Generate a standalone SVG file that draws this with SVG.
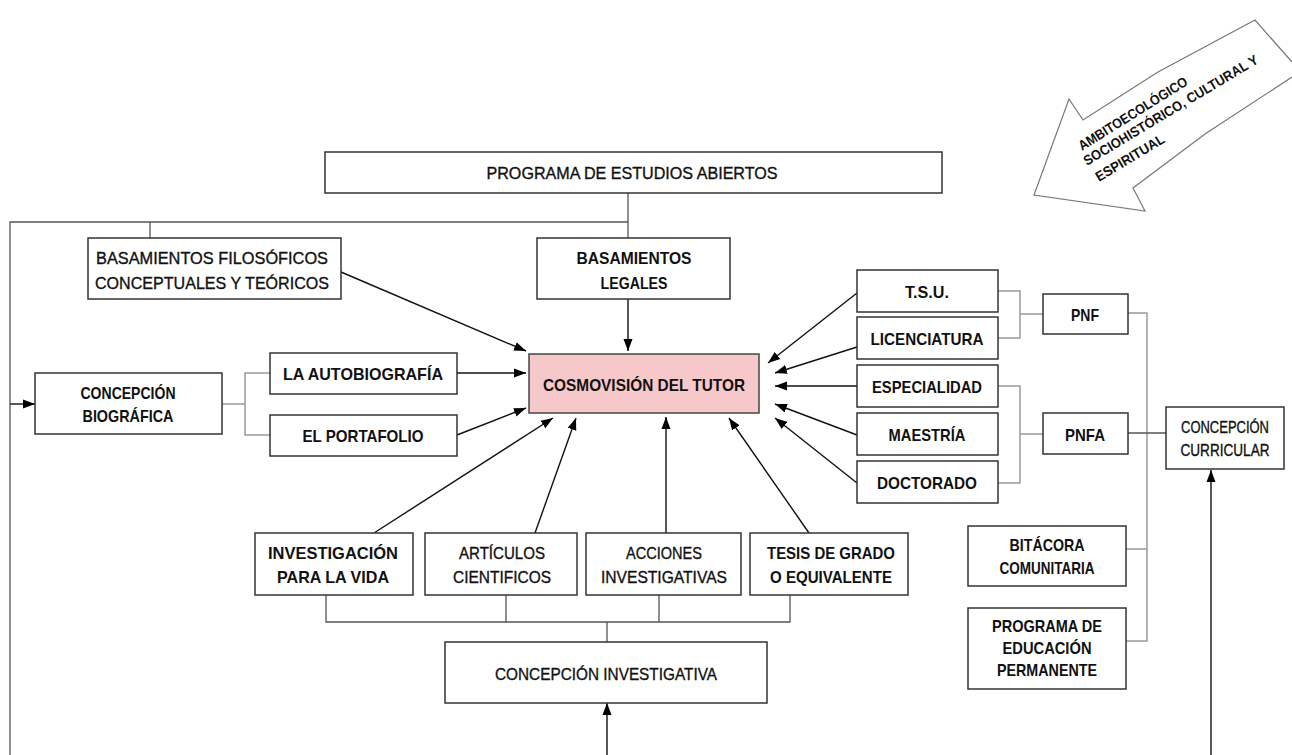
<svg xmlns="http://www.w3.org/2000/svg" width="1292" height="755" viewBox="0 0 1292 755">
<defs>
<marker id="ah" viewBox="0 0 12 10" refX="12" refY="5" markerWidth="12" markerHeight="10" markerUnits="userSpaceOnUse" orient="auto">
<path d="M0,0.5 L12,5 L0,9.5 z" fill="#000"/>
</marker>
<style>
.box{fill:#fff;stroke:#333;stroke-width:1.5}
.pink{fill:#f6c8ca;stroke:#444;stroke-width:1.5}
text{font-family:"Liberation Sans",Arial,sans-serif;font-size:17px;fill:#111;text-anchor:middle;stroke:#111;stroke-width:0.35}
.b{font-weight:bold;stroke-width:0}
.ln{fill:none;stroke:#555;stroke-width:1.3}
.gr{fill:none;stroke:#9a9a9a;stroke-width:1.5}
.ar{fill:none;stroke:#111;stroke-width:1.4;marker-end:url(#ah)}
.amb{font-size:14px;font-weight:bold;text-anchor:start;stroke-width:0}
</style>
</defs>
<rect width="1292" height="755" fill="#fff"/>

<g id="ambito">
<path d="M1292,62 L1255,20 L1158,72 L1083,120 L1069,99 L1034,195 L1145,211 L1133,188 L1205,134 L1292,77" fill="#fff" stroke="#777" stroke-width="1.2"/>
<text class="amb" transform="translate(1082,151) rotate(-32)" textLength="126" lengthAdjust="spacingAndGlyphs">AMBITOECOLÓGICO</text>
<text class="amb" transform="translate(1087,166) rotate(-31)" textLength="201" lengthAdjust="spacingAndGlyphs">SOCIOHISTÓRICO, CULTURAL Y</text>
<text class="amb" transform="translate(1099,182) rotate(-31)" textLength="78" lengthAdjust="spacingAndGlyphs">ESPIRITUAL</text>
</g>

<g id="connectors">
<polyline class="ln" points="628,193 628,238"/>
<polyline class="ln" points="628,222 10,222 10,755"/>
<polyline class="ln" points="150,222 150,238"/>
<line class="ar" x1="10" y1="404" x2="35" y2="404"/>
<line class="ar" x1="628" y1="299" x2="628" y2="351"/>
<line class="ar" x1="341" y1="272" x2="526" y2="351"/>
<polyline class="gr" points="222,404 245,404"/>
<polyline class="gr" points="270,373 245,373 245,435 270,435"/>
<line class="ar" x1="457" y1="373" x2="526" y2="373"/>
<line class="ar" x1="457" y1="435" x2="526" y2="408"/>
<line class="ar" x1="374" y1="533" x2="553" y2="418"/>
<line class="ar" x1="535" y1="533" x2="576" y2="418"/>
<line class="ar" x1="666" y1="533" x2="666" y2="417"/>
<line class="ar" x1="809" y1="533" x2="729" y2="418"/>
<line class="ar" x1="857" y1="293" x2="768" y2="363"/>
<line class="ar" x1="857" y1="347" x2="775" y2="373"/>
<line class="ar" x1="857" y1="386" x2="775" y2="386"/>
<line class="ar" x1="857" y1="435" x2="775" y2="404"/>
<line class="ar" x1="857" y1="483" x2="775" y2="418"/>
<polyline class="gr" points="998,291 1020,291 1020,338 998,338"/>
<polyline class="gr" points="1020,314 1043,314"/>
<polyline class="gr" points="998,386 1020,386 1020,483 998,483"/>
<polyline class="gr" points="1020,434 1043,434"/>
<polyline class="gr" points="1128,313 1147,313 1147,641 1126,641"/>
<polyline class="gr" points="1126,549 1147,549"/>
<polyline class="ln" points="1128,433 1166,433"/>
<line class="ar" x1="1211" y1="755" x2="1211" y2="470"/>
<polyline class="ln" points="326,595 326,622 790,622 790,595"/>
<polyline class="ln" points="506,595 506,622"/>
<polyline class="ln" points="659,595 659,622"/>
<polyline class="ln" points="607,622 607,642"/>
<line class="ar" x1="607" y1="755" x2="607" y2="703"/>
</g>

<g id="programa"><rect class="box" x="325" y="152" width="617" height="41"/><text x="632" y="179" textLength="291" lengthAdjust="spacingAndGlyphs">PROGRAMA DE ESTUDIOS ABIERTOS</text></g>
<g id="bas-filosoficos"><rect class="box" x="88" y="238" width="253" height="61"/><text x="212" y="264" textLength="232" lengthAdjust="spacingAndGlyphs">BASAMIENTOS FILOSÓFICOS</text><text x="212" y="289" textLength="234" lengthAdjust="spacingAndGlyphs">CONCEPTUALES Y TEÓRICOS</text></g>
<g id="bas-legales"><rect class="box" x="537" y="238" width="193" height="61"/><text class="b" x="634" y="264" textLength="115" lengthAdjust="spacingAndGlyphs">BASAMIENTOS</text><text class="b" x="634" y="289" textLength="67" lengthAdjust="spacingAndGlyphs">LEGALES</text></g>
<g id="cosmovision"><rect class="pink" x="529" y="354" width="230" height="59"/><text class="b" x="644" y="391" textLength="202" lengthAdjust="spacingAndGlyphs">COSMOVISIÓN DEL TUTOR</text></g>
<g id="concepcion-biografica"><rect class="box" x="35" y="373" width="187" height="61"/><text class="b" x="128" y="399" textLength="95" lengthAdjust="spacingAndGlyphs">CONCEPCIÓN</text><text class="b" x="128" y="422" textLength="91" lengthAdjust="spacingAndGlyphs">BIOGRÁFICA</text></g>
<g id="autobiografia"><rect class="box" x="270" y="353" width="187" height="41"/><text class="b" x="363" y="380" textLength="160" lengthAdjust="spacingAndGlyphs">LA AUTOBIOGRAFÍA</text></g>
<g id="portafolio"><rect class="box" x="270" y="415" width="187" height="41"/><text class="b" x="363" y="442" textLength="121" lengthAdjust="spacingAndGlyphs">EL PORTAFOLIO</text></g>
<g id="tsu"><rect class="box" x="857" y="270" width="141" height="42"/><text class="b" x="927" y="298" textLength="44" lengthAdjust="spacingAndGlyphs">T.S.U.</text></g>
<g id="licenciatura"><rect class="box" x="857" y="317" width="141" height="42"/><text class="b" x="927" y="345" textLength="113" lengthAdjust="spacingAndGlyphs">LICENCIATURA</text></g>
<g id="especialidad"><rect class="box" x="857" y="365" width="141" height="42"/><text class="b" x="927" y="393" textLength="110" lengthAdjust="spacingAndGlyphs">ESPECIALIDAD</text></g>
<g id="maestria"><rect class="box" x="857" y="413" width="141" height="42"/><text class="b" x="927" y="441" textLength="77" lengthAdjust="spacingAndGlyphs">MAESTRÍA</text></g>
<g id="doctorado"><rect class="box" x="857" y="461" width="141" height="42"/><text class="b" x="927" y="489" textLength="100" lengthAdjust="spacingAndGlyphs">DOCTORADO</text></g>
<g id="pnf"><rect class="box" x="1043" y="294" width="85" height="40"/><text class="b" x="1085" y="321" textLength="28" lengthAdjust="spacingAndGlyphs">PNF</text></g>
<g id="pnfa"><rect class="box" x="1043" y="413" width="85" height="41"/><text class="b" x="1085" y="441" textLength="40" lengthAdjust="spacingAndGlyphs">PNFA</text></g>
<g id="concepcion-curricular"><rect class="box" x="1166" y="407" width="118" height="62"/><text x="1225" y="433" style="font-size:16px" textLength="88" lengthAdjust="spacingAndGlyphs">CONCEPCIÓN</text><text x="1225" y="456" style="font-size:16px" textLength="89" lengthAdjust="spacingAndGlyphs">CURRICULAR</text></g>
<g id="bitacora"><rect class="box" x="968" y="526" width="158" height="60"/><text class="b" x="1047" y="551" textLength="75" lengthAdjust="spacingAndGlyphs">BITÁCORA</text><text class="b" x="1047" y="574" textLength="95" lengthAdjust="spacingAndGlyphs">COMUNITARIA</text></g>
<g id="educacion-permanente"><rect class="box" x="968" y="608" width="158" height="81"/><text class="b" x="1047" y="632" textLength="110" lengthAdjust="spacingAndGlyphs">PROGRAMA DE</text><text class="b" x="1047" y="654" textLength="89" lengthAdjust="spacingAndGlyphs">EDUCACIÓN</text><text class="b" x="1047" y="676" textLength="100" lengthAdjust="spacingAndGlyphs">PERMANENTE</text></g>
<g id="investigacion-vida"><rect class="box" x="255" y="533" width="158" height="62"/><text class="b" x="333" y="559" textLength="130" lengthAdjust="spacingAndGlyphs">INVESTIGACIÓN</text><text class="b" x="333" y="583" textLength="112" lengthAdjust="spacingAndGlyphs">PARA LA VIDA</text></g>
<g id="articulos"><rect class="box" x="425" y="533" width="152" height="62"/><text x="502" y="559" textLength="86" lengthAdjust="spacingAndGlyphs">ARTÍCULOS</text><text x="502" y="583" textLength="98" lengthAdjust="spacingAndGlyphs">CIENTIFICOS</text></g>
<g id="acciones"><rect class="box" x="586" y="533" width="155" height="62"/><text x="664" y="559" textLength="76" lengthAdjust="spacingAndGlyphs">ACCIONES</text><text x="664" y="583" textLength="126" lengthAdjust="spacingAndGlyphs">INVESTIGATIVAS</text></g>
<g id="tesis"><rect class="box" x="750" y="533" width="158" height="62"/><text class="b" x="831" y="559" textLength="128" lengthAdjust="spacingAndGlyphs">TESIS DE GRADO</text><text class="b" x="831" y="583" textLength="122" lengthAdjust="spacingAndGlyphs">O EQUIVALENTE</text></g>
<g id="concepcion-investigativa"><rect class="box" x="445" y="642" width="322" height="61"/><text x="606" y="680" textLength="222" lengthAdjust="spacingAndGlyphs">CONCEPCIÓN INVESTIGATIVA</text></g>
</svg>
